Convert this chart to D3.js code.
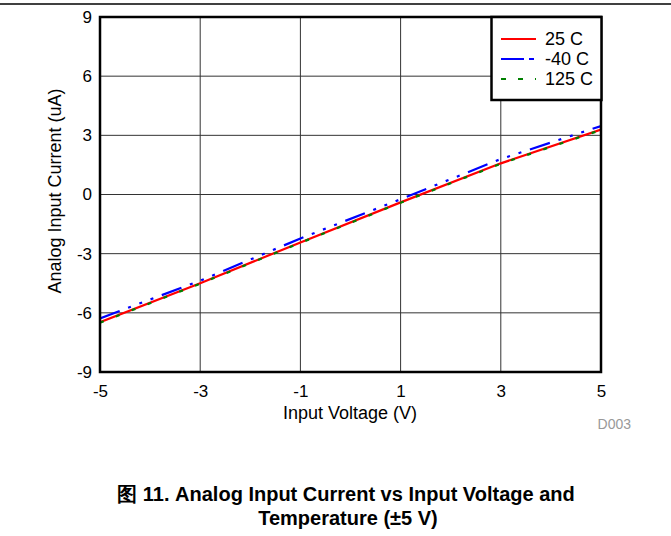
<!DOCTYPE html>
<html><head><meta charset="utf-8">
<script src="https://cdn.jsdelivr.net/npm/d3@7"></script>
<style>body{margin:0;background:#fff}svg{display:block;font-family:"Liberation Sans",Arial,sans-serif}</style>
</head><body>
<svg id="c" width="671" height="536"></svg>
<script>
const voltages = [-5, -3, -1, 1, 3, 5];
const current25 = [-6.47, -4.50, -2.43, -0.40, 1.58, 3.29];
const currentM40 = [-6.28, -4.37, -2.23, -0.24, 1.80, 3.47];
const current125 = [-6.50, -4.52, -2.45, -0.42, 1.56, 3.27];
const xTicks = [-5, -3, -1, 1, 3, 5];
const yTicks = [-9, -6, -3, 0, 3, 6, 9];
const seriesNames = ["25 C", "-40 C", "125 C"];

const FONT = "'Liberation Sans', Arial, sans-serif";
const svg = d3.select("#c");
const L = 100, R = 601, T = 17, B = 372;
const x = d3.scaleLinear().domain([-5, 5]).range([L, R]);
const y = d3.scaleLinear().domain([-9, 9]).range([B, T]);

// top rule
svg.append("line").attr("x1", 0).attr("x2", 671).attr("y1", 4).attr("y2", 4)
  .attr("stroke", "#000").attr("stroke-width", 1.5);

// grid
svg.append("g").selectAll("line").data(xTicks).join("line")
  .attr("x1", d => x(d)).attr("x2", d => x(d)).attr("y1", T).attr("y2", B)
  .attr("stroke", "#333").attr("stroke-width", 1);
svg.append("g").selectAll("line").data(yTicks).join("line")
  .attr("y1", d => y(d)).attr("y2", d => y(d)).attr("x1", L).attr("x2", R)
  .attr("stroke", "#333").attr("stroke-width", 1);

// axes labels via d3 axes
const xAxis = svg.append("g").attr("transform", `translate(0,${B})`)
  .call(d3.axisBottom(x).tickValues(xTicks).tickSize(0).tickPadding(13).tickFormat(d => String(d)));
const yAxis = svg.append("g").attr("transform", `translate(${L},0)`)
  .call(d3.axisLeft(y).tickValues(yTicks).tickSize(0).tickPadding(8).tickFormat(d => String(d)));
[xAxis, yAxis].forEach(a => {
  a.select(".domain").remove();
  a.attr("font-family", FONT).attr("font-size", 17);
  a.selectAll("text").attr("fill", "#000");
});

const line = d3.line().x((d, i) => x(voltages[i])).y(d => y(d));
svg.append("clipPath").attr("id", "pc").append("rect")
  .attr("x", L).attr("y", T).attr("width", R - L).attr("height", B - T);
const pg = svg.append("g").attr("clip-path", "url(#pc)");

pg.append("path").datum(current25).attr("d", line).attr("fill", "none")
  .attr("stroke", "#ff0000").attr("stroke-width", 2.2);
pg.append("path").datum(current125).attr("d", line).attr("fill", "none")
  .attr("stroke", "#008000").attr("stroke-width", 2.2).attr("stroke-dasharray", "4,13");
pg.append("path").datum(currentM40).attr("d", line).attr("fill", "none")
  .attr("stroke", "#0000ff").attr("stroke-width", 2.2).attr("stroke-dasharray", "21,9,3,9,3,9,3,9");

// frame
svg.append("rect").attr("x", L).attr("y", T).attr("width", R - L).attr("height", B - T)
  .attr("fill", "none").attr("stroke", "#000").attr("stroke-width", 2.5);

// legend
const lg = svg.append("g");
lg.append("rect").attr("x", 491.5).attr("y", 17).attr("width", 110).attr("height", 83)
  .attr("fill", "#fff").attr("stroke", "#000").attr("stroke-width", 2.5);
const lstyles = [
  {c: "#ff0000", d: null},
  {c: "#0000ff", d: "23,5,5,5"},
  {c: "#008000", d: "5,12"}
];
seriesNames.forEach((n, i) => {
  const yy = 39 + i * 20;
  lg.append("line").attr("x1", 501).attr("x2", 536).attr("y1", yy).attr("y2", yy)
    .attr("stroke", lstyles[i].c).attr("stroke-width", 2.2)
    .attr("stroke-dasharray", lstyles[i].d);
  lg.append("text").attr("x", 545).attr("y", yy + 6).attr("font-size", 18).text(n);
});

// axis titles
svg.append("text").attr("x", 350).attr("y", 419).attr("text-anchor", "middle")
  .attr("font-size", 18).text("Input Voltage (V)");
svg.append("text").attr("transform", "translate(61,191) rotate(-90)").attr("text-anchor", "middle")
  .attr("font-size", 18).text("Analog Input Current (uA)");
svg.append("text").attr("x", 631).attr("y", 429).attr("text-anchor", "end")
  .attr("font-size", 14).attr("fill", "#999").text("D003");

// caption
svg.append("text").attr("x", 346).attr("y", 501).attr("text-anchor", "middle")
  .attr("font-size", 20).attr("font-weight", "bold")
  .text("图 11. Analog Input Current vs Input Voltage and");
svg.append("text").attr("x", 348).attr("y", 525).attr("text-anchor", "middle")
  .attr("font-size", 20).attr("font-weight", "bold")
  .text("Temperature (±5 V)");
</script>
</body></html>
